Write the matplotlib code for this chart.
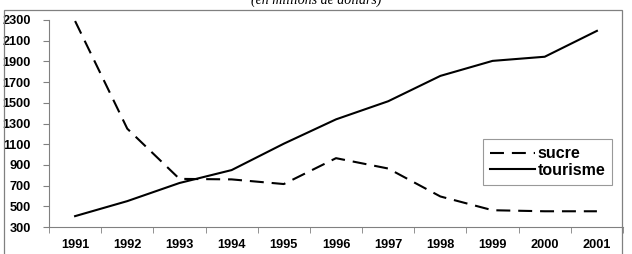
import matplotlib
matplotlib.use("Agg")
import matplotlib.pyplot as plt
from matplotlib.patches import Rectangle

years = ["1991", "1992", "1993", "1994", "1995", "1996", "1997", "1998", "1999", "2000", "2001"]
sucre = [2290, 1250, 765, 760, 715, 965, 865, 595, 462, 452, 452]
tourisme = [405, 550, 725, 850, 1105, 1340, 1515, 1760, 1905, 1945, 2195]
yticks = list(range(300, 2301, 200))

W, H = 632, 254
fig = plt.figure(figsize=(W / 100, H / 100), dpi=100, facecolor="white")
ax = fig.add_axes([49 / W, 27 / H, (623 - 49) / W, (227 - 20) / H])

x = range(len(years))
ax.plot(x, sucre, color="black", lw=1.5, dashes=(6.7, 3.8), label="sucre")
ax.plot(x, tourisme, color="black", lw=1.5, label="tourisme")

ax.set_xlim(-0.5, len(years) - 0.5)
ax.set_ylim(300, 2300)
ax.set_yticks(yticks)
ax.set_xticks(list(x))
ax.set_xticklabels(years)
ax.set_xticks([i - 0.5 for i in range(len(years) + 1)], minor=True)
ax.tick_params(axis="x", which="major", length=0, pad=9)
ax.tick_params(axis="x", which="minor", length=4, color="#808080", direction="out")
ax.tick_params(axis="y", length=4, color="#808080", pad=9)
for lab in ax.get_xticklabels() + ax.get_yticklabels():
    lab.set_fontfamily("Liberation Sans")
    lab.set_fontweight("bold")
    lab.set_fontsize(9.2)
for s in ["top", "right"]:
    ax.spines[s].set_visible(False)
for s in ["left", "bottom"]:
    ax.spines[s].set_color("#808080")
    ax.spines[s].set_linewidth(0.8)

leg = ax.legend(loc="upper left", bbox_to_anchor=((483 - 49) / (623 - 49), (227 - 139) / (227 - 20)),
                prop={"family": "Liberation Sans", "weight": "bold", "size": 11.5},
                frameon=True, fancybox=False, handlelength=2.8, handletextpad=0.15,
                borderpad=0.45, labelspacing=0.1, borderaxespad=0)
leg.get_frame().set_edgecolor("#808080")
leg.get_frame().set_linewidth(0.8)

# outer chart frame
fig.patches.append(Rectangle((4 / W, -0.05), (622 - 4) / W, 1.05 - 10 / H,
                             transform=fig.transFigure, fill=False, ec="#808080", lw=0.9))
fig.text(0.5, 1 - 4 / H, "(en millions de dollars)", ha="center", va="baseline",
         fontfamily="Liberation Serif", fontstyle="italic", fontsize=10)

fig.savefig("out.png", dpi=100)
